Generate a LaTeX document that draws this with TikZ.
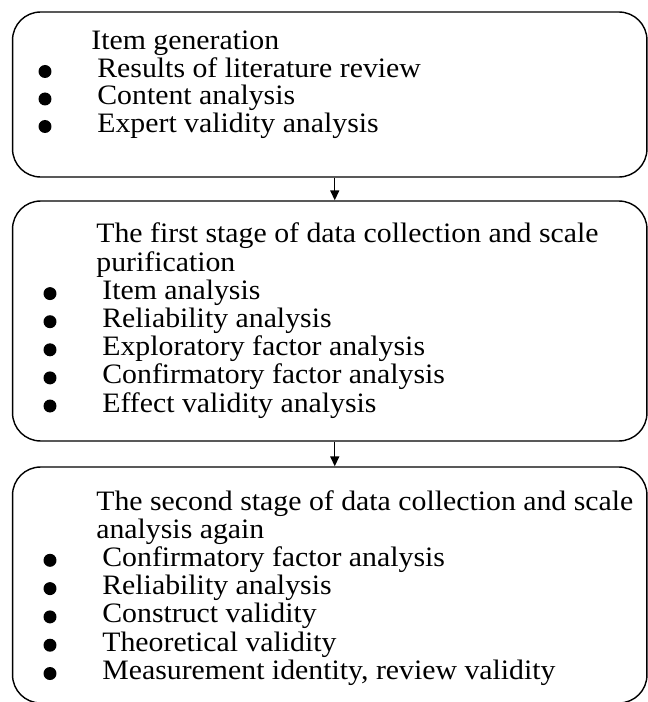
\documentclass[tikz,border=0pt]{standalone}
\usepackage{fontspec}
\setmainfont{Liberation Serif}[FakeStretch=1.06]
\usetikzlibrary{arrows.meta}
\tikzset{
    stage/.style = {draw, line width=0.8pt, rounded corners=0.56cm, minimum width=12.69cm},
    dot/.style = {fill, circle, inner sep=0pt, minimum size=0.26cm},
    line/.style = {anchor=base west, inner sep=0pt, font=\fontsize{16}{17}\selectfont},
    flow/.style = {line width=0.8pt, -{Triangle[length=0.2cm, width=0.18cm]}}
}

\begin{document}
\begin{tikzpicture}[x=0.02cm, y=-0.02cm]
    \useasboundingbox (0,0) rectangle (648,702);

    \node[stage, minimum height=3.3cm] (gen) at (329.75, 94.5) {};
    \node[stage, minimum height=4.8cm] (first) at (329.75, 321) {};
    \node[stage, minimum height=4.72cm] (second) at (329.75, 585) {};

    \draw[flow] ([xshift=0.1cm]gen.south) -- ([xshift=0.1cm]first.north);
    \draw[flow] ([xshift=0.1cm]first.south) -- ([xshift=0.1cm]second.north);

    % item generation
    \node[line] (gtitle) at (91, 50) {Item generation};
    \foreach \t [count=\i] in {Results of literature review, Content analysis, Expert validity analysis} {
        \node[dot] (gdot\i) at (45, {44+27.5*\i}) {};
        \node[line] (gitem\i) at (97, {50+27.5*\i}) {\t};
    }

    % first stage
    \node[line] (ftitle) at (96, 243) {The first stage of data collection and scale};
    \node[line] (ftitle2) at (96, 271.5) {purification};
    \foreach \t [count=\i] in {Item analysis, Reliability analysis, Exploratory factor analysis, Confirmatory factor analysis, Effect validity analysis} {
        \node[dot] (fdot\i) at (50, {265.5+28.1*\i}) {};
        \node[line] (fitem\i) at (102, {271.5+28.1*\i}) {\t};
    }

    % second stage
    \node[line] (stitle) at (96, 510) {The second stage of data collection and scale};
    \node[line] (stitle2) at (96, 538) {analysis again};
    \foreach \t [count=\i] in {Confirmatory factor analysis, Reliability analysis, Construct validity, Theoretical validity, {Measurement identity, review validity}} {
        \node[dot] (sdot\i) at (50, {532+28.3*\i}) {};
        \node[line] (sitem\i) at (102, {538+28.3*\i}) {\t};
    }
\end{tikzpicture}
\end{document}
